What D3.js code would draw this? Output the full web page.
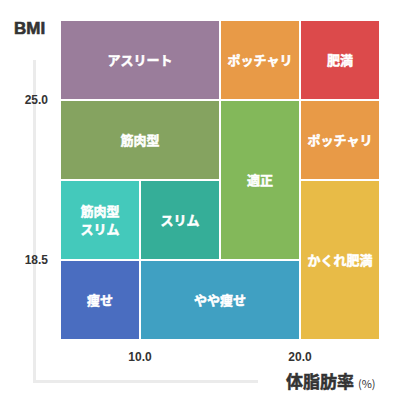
<!DOCTYPE html>
<html>
<head>
<meta charset="utf-8">
<script src="https://cdn.jsdelivr.net/npm/d3@7"></script>
<style>
  body { margin: 0; background: #fff; }
  text { font-family: "Noto Sans CJK JP", "Noto Sans", sans-serif; }
  .num { font-family: "Liberation Sans", Arial, sans-serif; }
</style>
</head>
<body>
<div id="chart"></div>
<script>
// cells: body fat range (x0,x1), BMI range (y0,y1)
var labels = ["アスリート","ポッチャリ","肥満","筋肉型","適正","ポッチャリ","筋肉型\nスリム","スリム","かくれ肥満","痩せ","やや痩せ"];
var fat0 = [5, 15, 20, 5, 15, 20, 5, 10, 20, 5, 10];
var fat1 = [15, 20, 25, 15, 20, 25, 10, 15, 25, 10, 20];
var bmi0 = [25, 25, 25, 21.75, 18.5, 21.75, 18.5, 18.5, 15.25, 15.25, 15.25];
var bmi1 = [28.25, 28.25, 28.25, 25, 25, 25, 21.75, 21.75, 21.75, 18.5, 18.5];
var colors = ["#9a7d9b","#e89a47","#dc4a4b","#85a360","#83b85a","#e89a47","#44c9bb","#35ae98","#e8bb47","#4a6dc0","#40a0c2"];
var xTicks = [10, 20];
var yTicks = [25, 18.5];

var width = 400, height = 400;

var svg = d3.select("#chart")
  .append("svg")
  .attr("width", width)
  .attr("height", height);

var x = d3.scaleLinear().domain([5, 25]).range([60, 380]);
var y = d3.scaleLinear().domain([15.25, 28.25]).range([340, 20]);

// light grey axis lines
svg.append("line")
  .attr("x1", 34.5).attr("x2", 34.5)
  .attr("y1", 60).attr("y2", 382.5)
  .attr("stroke", "#ebebeb").attr("stroke-width", 3);
svg.append("line")
  .attr("x1", 33).attr("x2", 258)
  .attr("y1", 381.5).attr("y2", 381.5)
  .attr("stroke", "#ebebeb").attr("stroke-width", 3);

var cells = labels.map(function(l, i){
  return {label: l, x0: fat0[i], x1: fat1[i], y0: bmi0[i], y1: bmi1[i], color: colors[i]};
});

var g = svg.selectAll(".cell")
  .data(cells)
  .enter()
  .append("g")
  .attr("class", "cell");

g.append("rect")
  .attr("x", function(d){ return x(d.x0) + 1; })
  .attr("y", function(d){ return y(d.y1) + 1; })
  .attr("width", function(d){ return x(d.x1) - x(d.x0) - 2; })
  .attr("height", function(d){ return y(d.y0) - y(d.y1) - 2; })
  .attr("fill", function(d){ return d.color; });

g.each(function(d){
  var lines = d.label.split("\n");
  var cx = (x(d.x0) + x(d.x1)) / 2;
  var cy = (y(d.y0) + y(d.y1)) / 2;
  var t = d3.select(this).append("text")
    .attr("text-anchor", "middle")
    .attr("fill", "#fff")
    .attr("stroke", "#fff")
    .attr("stroke-width", 0.5)
    .attr("font-size", 13)
    .attr("font-weight", 700);
  lines.forEach(function(line, k){
    t.append("tspan")
      .attr("x", cx)
      .attr("y", cy + (k - (lines.length - 1) / 2) * 18)
      .attr("dy", "0.35em")
      .text(line);
  });
});

// tick labels
svg.selectAll(".ytick")
  .data(yTicks)
  .enter()
  .append("text")
  .attr("class", "num")
  .attr("x", 48)
  .attr("y", function(d){ return y(d); })
  .attr("dy", "0.35em")
  .attr("text-anchor", "end")
  .attr("font-size", 12)
  .attr("font-weight", 700)
  .attr("fill", "#333")
  .text(function(d){ return d3.format(".1f")(d); });

svg.selectAll(".xtick")
  .data(xTicks)
  .enter()
  .append("text")
  .attr("class", "num")
  .attr("x", function(d){ return x(d); })
  .attr("y", 357)
  .attr("dy", "0.35em")
  .attr("text-anchor", "middle")
  .attr("font-size", 12)
  .attr("font-weight", 700)
  .attr("fill", "#333")
  .text(function(d){ return d3.format(".1f")(d); });

// axis titles
svg.append("text")
  .attr("class", "num")
  .attr("x", 14).attr("y", 28)
  .attr("dy", "0.35em")
  .attr("font-size", 17)
  .attr("font-weight", 700)
  .attr("fill", "#333")
  .attr("stroke", "#333")
  .attr("stroke-width", 0.6)
  .text("BMI");

var xt = svg.append("text")
  .attr("x", 286).attr("y", 382)
  .attr("dy", "0.35em")
  .attr("fill", "#333")
  .attr("font-weight", 700);
xt.append("tspan").attr("font-size", 17).attr("stroke", "#333").attr("stroke-width", 0.5).text("体脂肪率");
xt.append("tspan").attr("font-size", 11).attr("font-weight", 400).attr("dx", 4).text("(%)");
</script>
</body>
</html>
